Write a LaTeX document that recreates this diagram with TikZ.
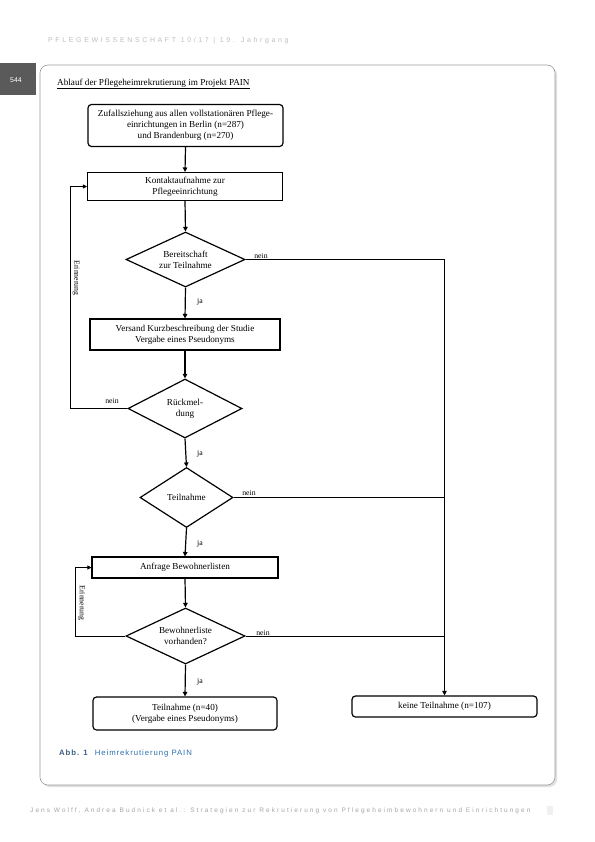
\documentclass[tikz,border=0pt]{standalone}
\usepackage{fontspec}
\setmainfont{Liberation Serif}
\newfontfamily\capfont[LetterSpace=12]{Liberation Sans}
\newfontfamily\pgfont{Liberation Sans}
\newfontfamily\hdfont[LetterSpace=38]{Liberation Sans}
\newfontfamily\ftfont[LetterSpace=32]{Liberation Sans}
\usetikzlibrary{arrows.meta,shapes.geometric,calc}
\definecolor{capblue}{HTML}{2E6FAD}
\definecolor{capgray}{HTML}{3E5F7E}
\definecolor{tabgray}{HTML}{5A5A5A}
\begin{document}
\begin{tikzpicture}[x=1bp,y=-1bp,
  every node/.style={font=\fontsize{9.2}{11}\selectfont, align=center, inner sep=0pt},
  box/.style={draw, line width=1.1pt, rectangle},
  rbox/.style={draw, line width=1.2pt, rectangle, rounded corners=3.5pt},
  dia/.style={draw, line width=1.2pt, diamond, aspect=2.2},
  flow/.style={line width=1.2pt, -{Triangle[length=4.5pt,width=4.5pt]}},
  loopline/.style={line width=0.9pt},
  loopar/.style={line width=0.9pt, -{Triangle[length=4pt,width=4pt]}},
  neinline/.style={line width=0.5pt},
  lbl/.style={font=\fontsize{7.8}{9}\selectfont}
]
\useasboundingbox (0,0) rectangle (595,842);
\fill[white] (0,0) rectangle (595,842);

% header
\node[font=\hdfont\fontsize{7}{8}\selectfont, text=black!25, anchor=west] (hdr) at (48,41) {PFLEGEWISSENSCHAFT 10/17 | 19. Jahrgang};

% panel
\fill[black!12, rounded corners=8pt] (42,67) rectangle (557,787);
\draw[black!40, line width=0.6pt, fill=white, rounded corners=8pt] (40,65) rectangle (555,785);

% page tab
\fill[tabgray] (0,63) rectangle (36,95);
\node[font=\pgfont\fontsize{7}{8}\selectfont, text=white] (pg) at (16,80) {544};

% title
\node[anchor=west, font=\fontsize{9.2}{11}\selectfont] (title) at (57,84) {\underline{Ablauf der Pflegeheimrekrutierung im Projekt PAIN}};

% nodes
\node[rbox, minimum width=195bp, minimum height=42bp] (b1) at (185.5,125.5) {Zufallsziehung aus allen vollstationären Pflege-\\einrichtungen in Berlin (n=287)\\und Brandenburg (n=270)};
\node[box, minimum width=195bp, minimum height=28bp] (b2) at (185,186.5) {Kontaktaufnahme zur\\Pflegeeinrichtung};
\node[dia, minimum width=119bp, minimum height=55bp] (d1) at (185.5,259.5) {Bereitschaft\\zur Teilnahme};
\node[box, minimum width=190bp, minimum height=31bp] (b3) at (185,334.5) {Versand Kurzbeschreibung der Studie\\Vergabe eines Pseudonyms};
\node[dia, minimum width=114bp, minimum height=59bp] (d2) at (185,408.5) {Rückmel-\\dung};
\node[dia, minimum width=93bp, minimum height=60bp] (d3) at (186.5,497.5) {Teilnahme};
\node[box, minimum width=186bp, minimum height=21bp] (b4) at (185,567.5) {Anfrage Bewohnerlisten};
\node[dia, minimum width=119bp, minimum height=56bp] (d4) at (185.5,636) {Bewohnerliste\\vorhanden?};
\node[rbox, minimum width=184bp, minimum height=33bp] (b5) at (185,713.5) {Teilnahme (n=40)\\(Vergabe eines Pseudonyms)};
\node[rbox, minimum width=185bp, minimum height=21bp] (b6) at (444.5,706.5) {keine Teilnahme (n=107)};

% main flow
\draw[flow] (b1.south) -- (b2.north);
\draw[flow] (b2.south) -- (d1.north);
\draw[flow] (d1.south) -- (b3.north);
\draw[flow] (b3.south) -- (d2.north);
\draw[flow] (d2.south) -- (d3.north);
\draw[flow] (d3.south) -- (b4.north);
\draw[flow] (b4.south) -- (d4.north);
\draw[flow] (d4.south) -- (b5.north);

% ja labels
\node[lbl] (ja1) at (200,302) {ja};
\node[lbl] (ja2) at (200,454) {ja};
\node[lbl] (ja3) at (200,544) {ja};
\node[lbl] (ja4) at (200,682) {ja};

% right side (nein)
\coordinate (r1) at (444.5,259.5);
\draw[neinline] (d1.east) -- (r1);
\draw[flow] (r1) -- (b6.north);
\draw[neinline] (d3.east) -- (d3.east -| r1);
\draw[line width=1pt] (d4.east) -- (d4.east -| r1);
\node[lbl] (n1) at (261,256) {nein};
\node[lbl] (n3) at (249,492.5) {nein};
\node[lbl] (n4) at (263,632.5) {nein};

% left loops
\coordinate (l1) at (70,408.5);
\draw[loopline] (d2.west) -- (l1);
\draw[loopar] (l1) |- (b2.west);
\node[lbl] (n2) at (112,401) {nein};
\node[lbl, rotate=-90] (e1) at (76,278) {Erinnerung};

\coordinate (l2) at (75,636);
\draw[loopline] (d4.west) -- (l2);
\draw[loopar] (l2) |- (b4.west);
\node[lbl, rotate=-90] (e2) at (81.5,603) {Erinnerung};

% caption
\node[anchor=west, font=\capfont\fontsize{7.8}{9}\selectfont] (cap) at (59,753) {\textcolor{capgray}{\textbf{Abb. 1}}\hspace{0.8em}\textcolor{capblue}{Heimrekrutierung PAIN}};

% footer
\node[font=\ftfont\fontsize{6.5}{8}\selectfont, text=black!35, anchor=west] (ftr) at (30,811) {Jens Wolff, Andrea Budnick et al.: Strategien zur Rekrutierung von Pflegeheimbewohnern und Einrichtungen};
\fill[black!6] (547,806) rectangle (553,815);
\end{tikzpicture}
\end{document}
